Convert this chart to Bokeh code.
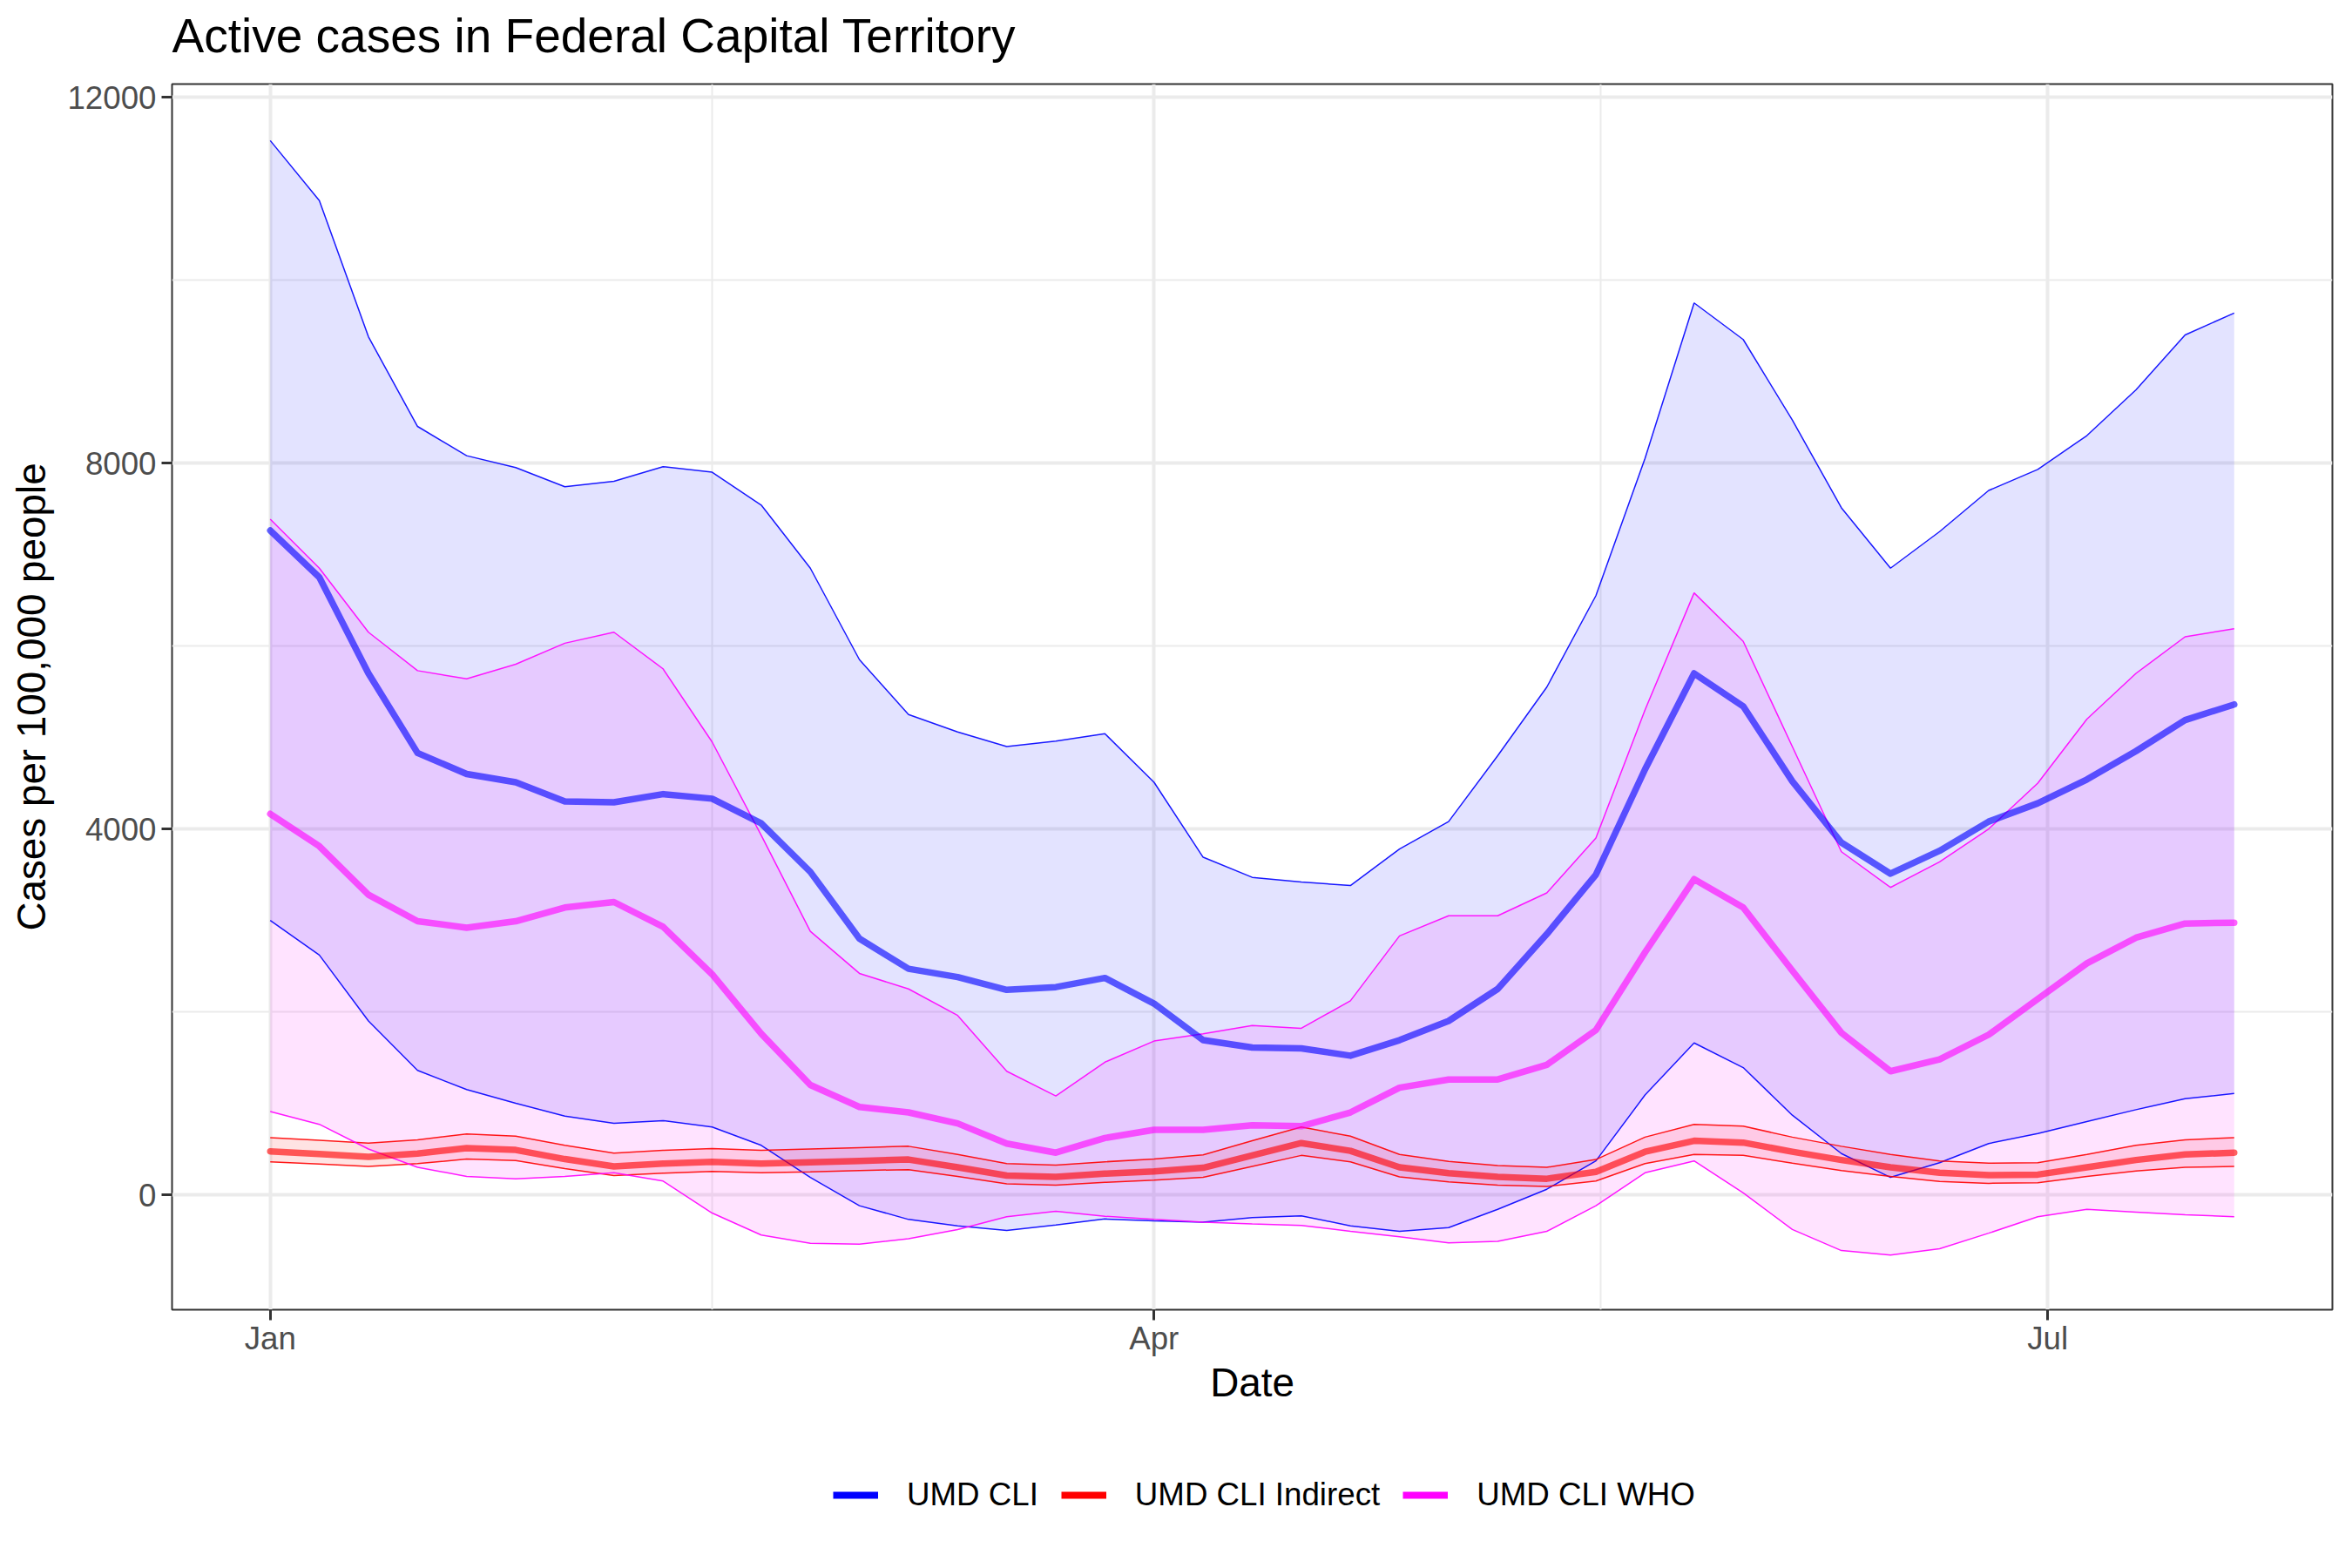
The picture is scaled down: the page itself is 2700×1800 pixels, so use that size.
from datetime import datetime
import pandas as pd
from bokeh.plotting import figure
from bokeh.layouts import column
from bokeh.models import Range1d, FixedTicker, DatetimeTickFormatter, Legend, LegendItem, Title
from bokeh.embed import file_html
from bokeh.resources import INLINE

# ---------------- data ----------------
dates = ["2021-01-01", "2021-01-06", "2021-01-11", "2021-01-16", "2021-01-21", "2021-01-26",
         "2021-01-31", "2021-02-05", "2021-02-10", "2021-02-15", "2021-02-20", "2021-02-25",
         "2021-03-02", "2021-03-07", "2021-03-12", "2021-03-17", "2021-03-22", "2021-03-27",
         "2021-04-01", "2021-04-06", "2021-04-11", "2021-04-16", "2021-04-21", "2021-04-26",
         "2021-05-01", "2021-05-06", "2021-05-11", "2021-05-16", "2021-05-21", "2021-05-26",
         "2021-05-31", "2021-06-05", "2021-06-10", "2021-06-15", "2021-06-20", "2021-06-25",
         "2021-06-30", "2021-07-05", "2021-07-10", "2021-07-15", "2021-07-20"]

cli_mean = [7262, 6750, 5700, 4830, 4600, 4510, 4300, 4290, 4380, 4330, 4060, 3530,
            2800, 2470, 2380, 2240, 2270, 2370, 2090, 1690, 1610, 1600, 1520, 1690,
            1900, 2250, 2850, 3500, 4650, 5700, 5340, 4520, 3850, 3510, 3760, 4080,
            4280, 4540, 4850, 5190, 5360]
cli_hi = [11525, 10870, 9380, 8400, 8080, 7950, 7740, 7800, 7960, 7900, 7540, 6850,
          5850, 5250, 5060, 4900, 4960, 5040, 4510, 3690, 3470, 3420, 3380, 3780,
          4080, 4800, 5550, 6550, 8050, 9750, 9350, 8470, 7510, 6850, 7250, 7700,
          7930, 8300, 8800, 9400, 9640]
cli_lo = [3000, 2620, 1900, 1360, 1150, 1000, 860, 780, 810, 740, 540, 190,
          -120, -270, -340, -390, -330, -265, -285, -300, -250, -230, -340, -400,
          -360, -160, 60, 370, 1090, 1660, 1390, 870, 450, 190, 350, 560,
          670, 800, 930, 1050, 1107]

ind_mean = [475, 445, 415, 450, 510, 490, 390, 310, 340, 360, 340, 355,
            370, 385, 300, 210, 195, 230, 255, 295, 430, 565, 480, 300,
            235, 195, 175, 250, 470, 590, 570, 470, 380, 300, 240, 215,
            220, 300, 380, 440, 460]
ind_hi = [625, 595, 565, 600, 665, 640, 540, 455, 485, 505, 485, 500,
          515, 530, 440, 340, 325, 360, 390, 435, 590, 740, 640, 440,
          365, 320, 300, 385, 630, 770, 750, 630, 530, 440, 370, 345,
          350, 440, 540, 600, 625]
ind_lo = [360, 335, 310, 340, 390, 375, 285, 210, 235, 255, 240, 250,
          265, 275, 200, 120, 105, 135, 160, 190, 310, 430, 360, 195,
          140, 105, 90, 150, 340, 440, 430, 345, 265, 200, 145, 125,
          130, 200, 260, 300, 310]

who_mean = [4164, 3810, 3280, 2990, 2920, 2990, 3140, 3200, 2930, 2410, 1760, 1200,
            960, 900, 780, 560, 460, 620, 710, 710, 760, 750, 900, 1170,
            1260, 1260, 1420, 1800, 2650, 3450, 3140, 2450, 1770, 1350, 1480, 1750,
            2140, 2530, 2810, 2965, 2975]
who_hi = [7385, 6850, 6150, 5730, 5640, 5800, 6030, 6150, 5750, 4950, 3930, 2880,
          2420, 2250, 1960, 1350, 1080, 1450, 1680, 1760, 1850, 1820, 2120, 2830,
          3050, 3050, 3300, 3900, 5300, 6580, 6050, 4900, 3750, 3360, 3640, 4000,
          4500, 5200, 5700, 6100, 6189]
who_lo = [910, 770, 500, 300, 200, 175, 200, 240, 150, -200, -440, -530,
          -540, -480, -380, -240, -180, -235, -270, -300, -320, -335, -400, -460,
          -525, -510, -400, -120, 240, 370, 20, -380, -610, -660, -590, -420,
          -240, -160, -190, -220, -240]

series_names = ["UMD CLI", "UMD CLI Indirect", "UMD CLI WHO"]
tick_dates = ["2021-01-01", "2021-04-01", "2021-07-01"]
y_ticks = [0, 4000, 8000, 12000]
y_minor = [2000, 6000, 10000]

# ---------------- main figure ----------------
x = pd.to_datetime(dates)
FONT = "Liberation Sans"
W = 2684
H_MAIN = 1625
H_LEG = 1784 - H_MAIN
FRAME_LEFT = 197

p = figure(width=W, height=H_MAIN, x_axis_type="datetime",
           output_backend="svg", toolbar_location=None,
           x_range=Range1d(datetime(2020, 12, 22), datetime(2021, 7, 30)),
           y_range=Range1d(-1257, 12143),
           min_border_left=FRAME_LEFT, min_border_right=7,
           min_border_top=96, min_border_bottom=H_MAIN - 1503,
           title="Active cases in Federal Capital Territory")

p.background_fill_color = "white"
p.border_fill_color = "white"
p.outline_line_color = "#333333"
p.outline_line_width = 2

p.title.text_font = FONT
p.title.text_font_size = "55px"
p.title.text_font_style = "normal"
p.title.text_color = "black"
p.title.align = "left"
p.title.vertical_align = "top"
p.title.standoff = 19

# thin spacer between the title and the panel, lifting the title a little
p.add_layout(Title(text=" ", text_font_size="2px", standoff=9), "above")

def ms(s):
    return pd.Timestamp(s).value / 1e6

xt = FixedTicker(ticks=[ms(d) for d in tick_dates],
                 minor_ticks=[ms("2021-02-15"), ms("2021-05-16 12:00")])
p.xaxis.ticker = xt
p.xgrid.ticker = xt
fmt = "%b"
p.xaxis.formatter = DatetimeTickFormatter(milliseconds=fmt, seconds=fmt, minsec=fmt,
                                          minutes=fmt, hourmin=fmt, hours=fmt,
                                          days=fmt, months=fmt, years=fmt)
yt = FixedTicker(ticks=y_ticks, minor_ticks=y_minor)
p.yaxis.ticker = yt
p.ygrid.ticker = yt

for g in (p.xgrid, p.ygrid):
    g.grid_line_color = "#EBEBEB"
    g.grid_line_width = 4
    g.minor_grid_line_color = "#EBEBEB"
    g.minor_grid_line_width = 2

for ax in (p.xaxis, p.yaxis):
    ax.axis_line_color = None
    ax.major_tick_line_color = "#333333"
    ax.major_tick_line_width = 3
    ax.major_tick_out = 12
    ax.major_tick_in = 0
    ax.minor_tick_line_color = None
    ax.major_label_text_font = FONT
    ax.major_label_text_font_size = "36.7px"
    ax.major_label_text_color = "#4D4D4D"
    ax.axis_label_text_font = FONT
    ax.axis_label_text_font_size = "45.8px"
    ax.axis_label_text_font_style = "normal"
    ax.axis_label_text_color = "black"

p.xaxis.axis_label = "Date"
p.yaxis.axis_label = "Cases per 100,000 people"
p.xaxis.major_label_standoff = 0
p.xaxis.axis_label_standoff = 2
p.yaxis.major_label_standoff = 6
p.yaxis.axis_label_standoff = 12

series = [
    (series_names[0], "#0000FF", cli_mean, cli_lo, cli_hi),
    (series_names[1], "#FF0000", ind_mean, ind_lo, ind_hi),
    (series_names[2], "#FF00FF", who_mean, who_lo, who_hi),
]

for name, col, m, lo, hi in series:
    p.varea(x=x, y1=lo, y2=hi, fill_color=col, fill_alpha=0.11)
for name, col, m, lo, hi in series:
    p.line(x, lo, line_color=col, line_width=1.5, line_alpha=0.9)
    p.line(x, hi, line_color=col, line_width=1.5, line_alpha=0.9)
for name, col, m, lo, hi in series:
    p.line(x, m, line_color=col, line_width=7.5, line_alpha=0.62,
           line_join="round", line_cap="round")

# ---------------- legend strip ----------------
lf = figure(width=W, height=H_LEG, output_backend="svg", toolbar_location=None,
            x_range=Range1d(0, 1), y_range=Range1d(0, 1),
            min_border=0, min_border_left=0, min_border_right=0,
            min_border_top=0, min_border_bottom=0)
lf.axis.visible = False
lf.grid.visible = False
lf.outline_line_color = None
lf.background_fill_color = "white"
lf.border_fill_color = "white"

items = []
for name, col, m, lo, hi in series:
    r = lf.line(x=[0.5], y=[float("nan")], line_color=col, line_width=8)
    items.append(LegendItem(label=name, renderers=[r]))

legend_center_y = 1717 - H_MAIN
legend = Legend(items=items, orientation="horizontal",
                location=(956 - FRAME_LEFT, H_LEG - legend_center_y - 20),
                glyph_width=52, glyph_height=40, label_standoff=33, spacing=26,
                padding=0, margin=0, border_line_color=None,
                background_fill_alpha=0,
                label_text_font=FONT, label_text_font_size="36.7px",
                label_text_color="black")
lf.add_layout(legend, "center")

layout = column(p, lf, spacing=0)
open("out.html", "w").write(file_html(layout, INLINE))
